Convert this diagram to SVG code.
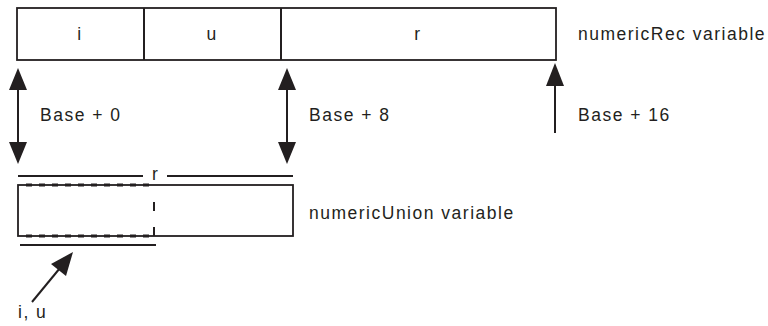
<svg xmlns="http://www.w3.org/2000/svg" width="768" height="326" viewBox="0 0 768 326">
<defs>
<style>
text{font-family:"Liberation Sans",Arial,sans-serif;font-size:17.5px;fill:#231f20;letter-spacing:1.5px}
.box{fill:#fff;stroke:#231f20;stroke-width:1.8}
.ln{stroke:#231f20;stroke-width:2;fill:none}
.dash{stroke:#231f20;stroke-width:2.8;fill:none;stroke-dasharray:6 7}
.head{fill:#231f20;stroke:none}
</style>
</defs>
<g id="numericRec">
<rect class="box" x="17" y="8" width="539" height="52"/>
<line class="ln" x1="144" y1="8" x2="144" y2="60"/>
<line class="ln" x1="281" y1="8" x2="281" y2="60"/>
<text x="80" y="40" text-anchor="middle">i</text>
<text x="212" y="40" text-anchor="middle">u</text>
<text x="418" y="40" text-anchor="middle">r</text>
<text x="578" y="40">numericRec variable</text>
</g>
<g id="numericUnion">
<line class="ln" x1="18" y1="176" x2="143" y2="176"/>
<line class="ln" x1="167" y1="176" x2="293" y2="176"/>
<text x="155" y="180" text-anchor="middle" style="letter-spacing:0">r</text>
<rect class="box" x="18" y="185" width="275" height="51"/>
<line class="dash" x1="26" y1="185" x2="154" y2="185"/>
<line class="dash" x1="26" y1="236" x2="154" y2="236"/>
<line class="ln" x1="154" y1="202" x2="154" y2="211"/>
<line class="ln" x1="154" y1="227" x2="154" y2="236"/>
<line class="ln" x1="20" y1="245" x2="156" y2="245"/>
<text x="309" y="219">numericUnion variable</text>
</g>
<g id="labels">
<text x="40" y="121">Base + 0</text>
<text x="309" y="121">Base + 8</text>
<text x="578" y="121">Base + 16</text>
<text x="18" y="318">i, u</text>
</g>
<g id="connectors">
<line class="ln" x1="18" y1="88" x2="18" y2="144"/>
<path class="head" d="M18,68 L27,90 L9,90 Z"/>
<path class="head" d="M18,164 L27,142 L9,142 Z"/>
<line class="ln" x1="287" y1="88" x2="287" y2="144"/>
<path class="head" d="M287,68 L296,90 L278,90 Z"/>
<path class="head" d="M287,164 L296,142 L278,142 Z"/>
<line class="ln" x1="555" y1="84" x2="555" y2="133"/>
<path class="head" d="M555,63 L564,86 L546,86 Z"/>
<line class="ln" x1="32" y1="302" x2="60" y2="268"/>
<path class="head" d="M73,252 L66,276 L51,264 Z"/>
</g>
</svg>
